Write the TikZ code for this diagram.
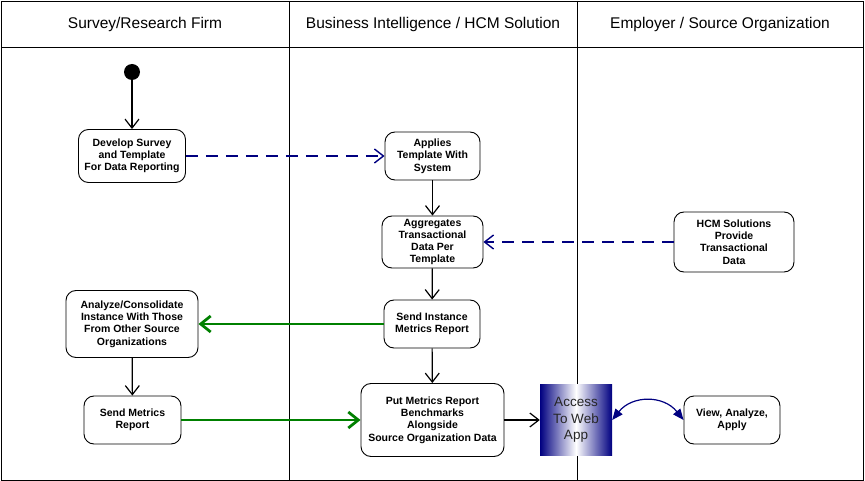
\documentclass[tikz,border=0pt]{standalone}
\usepackage{fontspec}
\setmainfont{Liberation Sans}
\usetikzlibrary{arrows.meta}
\definecolor{navyc}{RGB}{0,0,128}
\definecolor{greenc}{RGB}{0,128,0}
\begin{document}
\begin{tikzpicture}[x=1pt,y=-1pt,
  act/.style={draw=black, line width=0.9pt, rounded corners=10pt, align=center,
    font=\fontsize{10.5}{12.3}\selectfont\bfseries, inner sep=0pt},
  lane/.style={font=\fontsize{15.5}{18}\selectfont, inner sep=0pt},
  flow/.style={draw=black, line width=1.2pt, -{Straight Barb[length=9pt,width=14pt,line width=1.2pt]}},
  gflow/.style={draw=greenc, line width=2.8pt, -{Straight Barb[length=10pt,width=16pt,line width=2.8pt]}},
  dflow/.style={draw=navyc, line width=1.4pt, dash pattern=on 12pt off 8pt, -{Straight Barb[length=9pt,width=14pt,line width=1.4pt]}},
  bflow/.style={draw=navyc, line width=1.2pt, {Triangle[length=11pt,width=9pt]}-{Triangle[length=11pt,width=9pt]}},
]
\useasboundingbox (0,0) rectangle (865,481);
% frame and lanes
\draw[line width=0.9pt] (1,1) rectangle (863,480);
\draw[line width=0.9pt] (1,47) -- (863,47);
\draw[line width=0.9pt] (289,1) -- (289,480);
\draw[line width=0.9pt] (577,1) -- (577,480);
\node[lane] (h1) at (145,24) {Survey/Research Firm};
\node[lane] (h2) at (433,24) {Business Intelligence / HCM Solution};
\node[lane] (h3) at (720,24) {Employer / Source Organization};

% nodes
\node[circle, fill=black, minimum size=16pt, inner sep=0pt] (start) at (132,72) {};
\node[act, minimum width=107pt, minimum height=53pt] (dev) at (132,156) {Develop Survey\\and Template\\For Data Reporting};
\node[act, minimum width=95pt, minimum height=48pt] (app) at (432.5,156) {Applies\\Template With\\System};
\node[act, minimum width=101pt, minimum height=52pt] (agg) at (432.5,242) {Aggregates\\Transactional\\Data Per\\Template};
\node[act, minimum width=120pt, minimum height=60pt] (hcm) at (734,242) {HCM Solutions\\Provide\\Transactional\\Data};
\node[act, minimum width=96pt, minimum height=48pt] (sis) at (432,324) {Send Instance\\Metrics Report};
\node[act, minimum width=132pt, minimum height=67pt] (ana) at (132,324) {Analyze/Consolidate\\Instance With Those\\From Other Source\\Organizations};
\node[act, minimum width=97pt, minimum height=48pt] (smr) at (132.5,420) {Send Metrics\\Report};
\node[act, minimum width=143pt, minimum height=73pt] (put) at (432.5,420) {Put Metrics Report\\Benchmarks\\Alongside\\Source Organization Data};
\node[left color=navyc, right color=navyc, middle color=white, shading=axis, shading angle=90,
  minimum width=72pt, minimum height=71pt, inner sep=0pt, align=center,
  text=black!85, font=\fontsize{13.5}{16.5}\selectfont] (acc) at (576,420) {Access\\To Web\\App};
\node[act, minimum width=96pt, minimum height=48pt] (view) at (732,420) {View, Analyze,\\Apply};

% connectors
\draw[flow] (start) -- (dev);
\draw[dflow] (dev) -- (app);
\draw[flow] (app) -- (agg);
\draw[dflow] (hcm) -- (agg);
\draw[flow] (agg) -- (sis);
\draw[gflow] (sis) -- (ana);
\draw[flow] (sis) -- (put);
\draw[flow] (ana) -- (smr);
\draw[gflow] (smr) -- (put);
\draw[flow] (put) -- (acc);
\draw[bflow] (acc.east) .. controls +(20,-25) and +(-20,-25) .. (view.west);
\end{tikzpicture}
\end{document}
